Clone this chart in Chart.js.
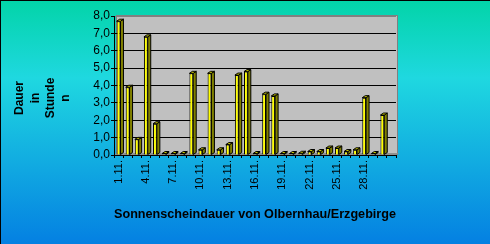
<!DOCTYPE html>
<html>
<head>
<meta charset="utf-8">
<script src="https://cdn.jsdelivr.net/npm/chart.js@4"></script>
<style>
  html, body { margin: 0; padding: 0; overflow: hidden; }
  #wrap { width: 490px; height: 244px; }
</style>
</head>
<body>
<div id="wrap"><canvas id="chart" width="490" height="244"></canvas></div>
<script>
// Sonnenscheindauer November, Stunden pro Tag (31. Kategorie leer)
const days = ["1.11.", "2.11.", "3.11.", "4.11.", "5.11.", "6.11.", "7.11.", "8.11.", "9.11.", "10.11.",
    "11.11.", "12.11.", "13.11.", "14.11.", "15.11.", "16.11.", "17.11.", "18.11.", "19.11.", "20.11.",
    "21.11.", "22.11.", "23.11.", "24.11.", "25.11.", "26.11.", "27.11.", "28.11.", "29.11.", "30.11.", ""];
const sunHours = [7.7, 3.9, 0.9, 6.8, 1.8, 0, 0, 0, 4.7, 0.3,
    4.7, 0.3, 0.6, 4.6, 4.8, 0, 3.5, 3.4, 0, 0,
    0.1, 0.2, 0.2, 0.4, 0.4, 0.2, 0.3, 3.3, 0, 2.3, null];
const yTicks = ["0,0", "1,0", "2,0", "3,0", "4,0", "5,0", "6,0", "7,0", "8,0"];
const yTitleLines = ["Dauer", "in", "Stunde", "n"];
const xTitle = "Sonnenscheindauer von Olbernhau/Erzgebirge";

const DX = 3, DY = 2;

const backdrop = {
    id: "backdrop",
    beforeDraw(chart) {
        const { ctx, width, height, chartArea: a } = chart;
        ctx.save();
        const g = ctx.createLinearGradient(0, 0, 0, height);
        g.addColorStop(0, "#02d4a8");
        g.addColorStop(0.32, "#1fd8e0");
        g.addColorStop(1, "#0480e2");
        ctx.fillStyle = g;
        ctx.fillRect(0, 0, width, height);
        ctx.fillStyle = "#000";
        ctx.fillRect(0, 0, width, 1);
        ctx.fillRect(0, 0, 1, height);
        // back wall
        ctx.fillStyle = "#c0c0c0";
        ctx.fillRect(a.left + DX - 1, a.top - 1, a.width, a.height + 1);
        ctx.strokeStyle = "#808080";
        ctx.lineWidth = 1;
        ctx.strokeRect(a.left + DX - 0.5, a.top - 0.5, a.width - 1, a.height);
        // floor
        ctx.fillStyle = "#909090";
        ctx.beginPath();
        ctx.moveTo(a.left, a.bottom);
        ctx.lineTo(a.left + DX, a.bottom - DY);
        ctx.lineTo(a.right + DX, a.bottom - DY);
        ctx.lineTo(a.right, a.bottom);
        ctx.closePath();
        ctx.fill();
        ctx.restore();
    },
    afterDatasetsDraw(chart) {
        const { ctx } = chart;
        const meta = chart.getDatasetMeta(0);
        ctx.save();
        ctx.strokeStyle = "#000";
        ctx.lineWidth = 1;
        meta.data.forEach((bar, i) => {
            if (sunHours[i] === null) return;
            const p = bar.getProps(["x", "y", "base", "width"], true);
            const l = p.x - p.width / 2, r = p.x + p.width / 2;
            const t = Math.min(p.y, p.base - 1);
            ctx.fillStyle = "#808000";
            ctx.beginPath();
            ctx.moveTo(r, t);
            ctx.lineTo(r + DX, t - DY);
            ctx.lineTo(r + DX, p.base - DY);
            ctx.lineTo(r, p.base);
            ctx.closePath();
            ctx.fill();
            ctx.stroke();
            ctx.fillStyle = "#c8c800";
            ctx.beginPath();
            ctx.moveTo(l, t);
            ctx.lineTo(l + DX, t - DY);
            ctx.lineTo(r + DX, t - DY);
            ctx.lineTo(r, t);
            ctx.closePath();
            ctx.fill();
            ctx.stroke();
        });
        ctx.restore();
    },
    afterDraw(chart) {
        const { ctx } = chart;
        ctx.save();
        ctx.fillStyle = "#000";
        ctx.font = "bold 12px 'Liberation Sans', Arial, sans-serif";
        ctx.textAlign = "center";
        ctx.textBaseline = "middle";
        const xs = [20, 36, 51, 66];
        yTitleLines.forEach((line, i) => {
            ctx.save();
            ctx.translate(xs[i], 98);
            ctx.rotate(-Math.PI / 2);
            ctx.fillText(line, 0, 0);
            ctx.restore();
        });
        ctx.restore();
    }
};

new Chart(document.getElementById("chart"), {
    type: "bar",
    data: {
        labels: days,
        datasets: [{
            data: sunHours,
            backgroundColor: "#ffff00",
            borderColor: "#000",
            borderWidth: 1,
            barPercentage: 0.42,
            categoryPercentage: 1,
            minBarLength: 1
        }]
    },
    options: {
        responsive: false,
        animation: false,
        events: [],
        layout: { padding: { top: 16, right: 94, left: 0, bottom: 0 } },
        plugins: { legend: { display: false }, tooltip: { enabled: false } },
        scales: {
            x: {
                afterFit: s => { s.height = 89; },
                grid: { drawOnChartArea: false, drawTicks: true, tickLength: 3, color: "#000" },
                border: { color: "#000" },
                ticks: {
                    autoSkip: false,
                    minRotation: 90,
                    maxRotation: 90,
                    padding: 2,
                    color: "#000",
                    font: { family: "'Liberation Sans', Arial, sans-serif", size: 11 },
                    callback: (v, i) => (i % 3 === 0 ? days[i] : "")
                },
                title: {
                    display: true,
                    text: xTitle,
                    color: "#000",
                    font: { family: "'Liberation Sans', Arial, sans-serif", size: 13, weight: "bold" },
                    padding: { top: 0, bottom: 22 }
                }
            },
            y: {
                min: 0,
                max: 8,
                afterFit: s => { s.width = 114; },
                grid: {
                    color: c => (c.tick.value === 8 ? "#808080" : c.tick.value === 0 ? "rgba(0,0,0,0)" : "#000"),
                    tickColor: "#000",
                    tickLength: 3
                },
                border: { color: "#000" },
                ticks: {
                    autoSkip: false,
                    stepSize: 1,
                    padding: 1,
                    color: "#000",
                    font: { family: "'Liberation Sans', Arial, sans-serif", size: 12 },
                    callback: (v, i) => yTicks[i]
                }
            }
        }
    },
    plugins: [backdrop]
});
</script>
</body>
</html>
